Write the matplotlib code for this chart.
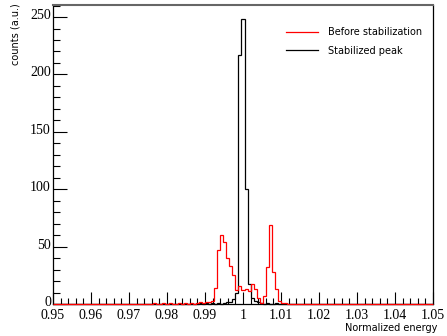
import matplotlib
matplotlib.use("Agg")
import matplotlib.pyplot as plt
import matplotlib.transforms as mtransforms
from matplotlib.ticker import MultipleLocator
import numpy as np

# 125 bins from 0.95 to 1.05, counts only given for the window k = 30..79
nbins = 125
k_first = 30

before = [0, 0, 0, 1, 0, 0, 1, 0, 1, 0,
          0, 1, 0, 1, 0, 1, 0, 1, 2, 1,
          2, 2, 3, 14, 47, 60, 54, 40, 33, 25,
          12, 16, 12, 13, 11, 17, 13, 5, 1, 7,
          32, 69, 28, 13, 3, 1, 1, 0, 0, 0]

stabilized = [0, 0, 0, 0, 0, 0, 0, 0, 0, 0,
              0, 0, 0, 0, 0, 0, 0, 0, 1, 0,
              1, 0, 1, 0, 1, 0, 1, 2, 2, 4,
              10, 217, 248, 100, 17, 5, 3, 2, 1, 0,
              1, 0, 0, 1, 0, 0, 0, 0, 0, 0]

xticks = [0.95, 0.96, 0.97, 0.98, 0.99, 1.0, 1.01, 1.02, 1.03, 1.04, 1.05]
xticklabels = ['0.95', '0.96', '0.97', '0.98', '0.99', '1', '1.01', '1.02',
               '1.03', '1.04', '1.05']

edges = np.linspace(0.95, 1.05, nbins + 1)

def full(vals):
    h = np.zeros(nbins)
    h[k_first:k_first + len(vals)] = vals
    return h

fig = plt.figure(figsize=(4.47, 3.36), dpi=100)
ax = fig.add_axes([53 / 447, 1 - 304 / 336, 380 / 447, 299 / 336])

ax.stairs(full(stabilized), edges, color='black', lw=0.9, label='Stabilized peak',
          zorder=3, clip_on=False)
ax.stairs(full(before), edges, color='red', lw=0.9, label='Before stabilization',
          zorder=4, clip_on=False)

ax.set_xlim(0.95, 1.05)
ax.set_ylim(0, 260.5)

ax.set_xticks(xticks)
ax.set_xticklabels(xticklabels)
ax.xaxis.set_minor_locator(MultipleLocator(0.002))
ax.yaxis.set_major_locator(MultipleLocator(50))
ax.yaxis.set_minor_locator(MultipleLocator(10))
ax.tick_params(which='both', direction='in', top=False, right=False,
               labelsize=10, width=0.8)
ax.tick_params(axis='x', pad=3.5)
ax.tick_params(axis='y', pad=1.5)
ax.tick_params(which='major', axis='x', length=9)
ax.tick_params(which='minor', axis='x', length=4.5)
ax.tick_params(which='major', axis='y', length=10)
ax.tick_params(which='minor', axis='y', length=5)
shift_up = mtransforms.ScaledTranslation(0, 3 / 100, fig.dpi_scale_trans)
for lab in ax.get_xticklabels() + ax.get_yticklabels():
    lab.set_family('Liberation Serif')
for lab in ax.get_yticklabels():
    lab.set_transform(lab.get_transform() + shift_up)
for s in ax.spines.values():
    s.set_linewidth(0.9)
ax.spines['top'].set_color('#666666')
ax.spines['top'].set_linewidth(1.5)

fig.text(437 / 447, 1 - 328 / 336, 'Normalized energy', ha='right', va='center',
         fontsize=7, family='DejaVu Sans')
fig.text(15 / 447, 1 - 3 / 336, 'counts (a.u.)', rotation=90, ha='center', va='top',
         fontsize=7, family='DejaVu Sans')

h, l = ax.get_legend_handles_labels()
ax.legend(h[::-1], l[::-1], loc='upper left', bbox_to_anchor=(286 / 447, 1 - 27 / 336),
          bbox_transform=fig.transFigure, frameon=False,
          handlelength=3.3, handletextpad=1.0, labelspacing=0.9,
          borderpad=0, borderaxespad=0,
          prop={'family': 'DejaVu Sans', 'size': 7})

fig.savefig('out.png', dpi=100)
